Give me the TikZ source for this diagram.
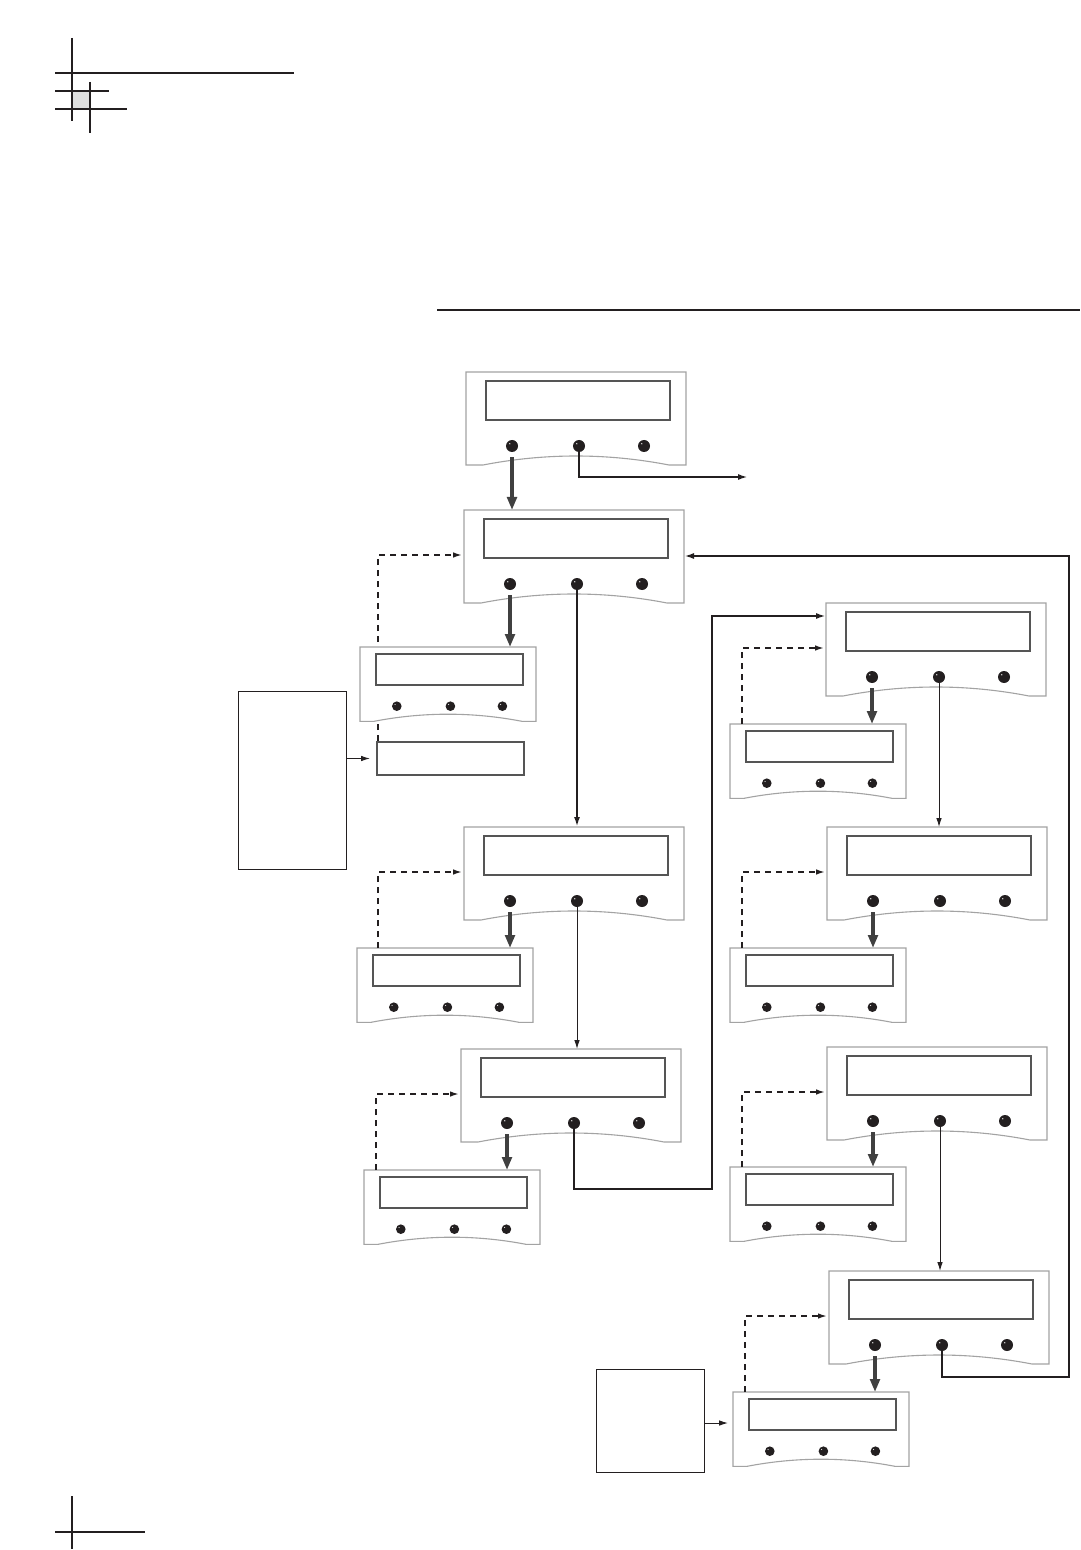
\documentclass[tikz,border=0pt]{standalone}
\usepackage{xcolor}
\usepackage{tikz}
\usetikzlibrary{arrows.meta, positioning, calc}

\definecolor{ink}{HTML}{231F20}
\definecolor{casegray}{HTML}{A3A3A3}
\definecolor{lcdgray}{HTML}{555555}
\definecolor{arrowgray}{HTML}{404040}

\tikzset{
  case/.style={draw=casegray, line width=0.55pt, fill=white},
  lcd/.style={draw=lcdgray, line width=1pt},
  knob/.style={circle, fill=ink, inner sep=0pt},
  heavy/.style={draw=arrowgray, line width=1.7pt, -{Triangle[width=4.8pt,length=6.5pt]}},
  thickline/.style={draw=ink, line width=1pt, -{Latex[length=5pt,width=3pt]}},
  thinline/.style={draw=ink, line width=0.5pt, -{Latex[length=4.5pt,width=2.8pt]}},
  dashline/.style={draw=ink, line width=0.8pt, dash pattern=on 3pt off 2.5pt,
    -{Latex[length=4.5pt,width=2.8pt]}, shorten >=1pt},
  notebox/.style={draw=ink, line width=0.6pt, anchor=north west},
  cropline/.style={draw=ink, line width=0.6pt}
}

% front panel: name, top left corner (px), scale
\newcommand{\panel}[4]{%
  \begin{scope}[shift={(#2,#3)}, scale=#4]
    \draw[case] (0,0) -- (220,0) -- (220,93) -- (203,93)
      .. controls (141,81) and (79,81) .. (17,93) -- (0,93) -- cycle;
    \draw[lcd] (20,9) rectangle (204,48);
    \coordinate (#1-t) at (110,0);
    \coordinate (#1-l) at (0,45);
    \coordinate (#1-r) at (220,46);
    \coordinate (#1-e) at (0,13);
    \coordinate (#1-d) at (15,0);
    \foreach \i/\kx in {1/46,2/113,3/178} {
      \node[knob, minimum size=#4*6pt] (#1-k\i) at (\kx,74) {};
      \fill[white] (\kx-2.2,71.8) circle (0.7);
    }
  \end{scope}
}

\begin{document}
\begin{tikzpicture}[x=0.5pt, y=-0.5pt]
    \useasboundingbox (0,0) rectangle (1080,1550);

    % Crop marks
    \fill[gray!25] (72,91) rectangle (90,109);
    \draw[cropline] (72,38) -- (72,121);
    \draw[cropline] (55,73) -- (294,73);
    \draw[cropline] (90,82) -- (90,133);
    \draw[cropline] (55,91) -- (109,91);
    \draw[cropline] (55,109) -- (127,109);
    \draw[cropline] (72,1496) -- (72,1549);
    \draw[cropline] (55,1532) -- (145,1532);

    % Header rule
    \draw[cropline] (437,310) -- (1080,310);

    % Left column
    \panel{P0}{466}{372}{1}
    \panel{P1}{464}{510}{1}
    \node[lcd, anchor=north west, minimum width=73.5pt, minimum height=16.5pt] (P1x) at (376,741) {};
    \draw[dashline] ([xshift=1pt]P1x.north west) |- (P1-l);
    \panel{P1s}{360}{647}{0.8}
    \panel{P2}{464}{827}{1}
    \panel{P2s}{357}{948}{0.8}
    \panel{P3}{461}{1049}{1}
    \panel{P3s}{364}{1170}{0.8}

    % Right column
    \panel{P4}{826}{603}{1}
    \panel{P4s}{730}{724}{0.8}
    \panel{P5}{827}{827}{1}
    \panel{P5s}{730}{948}{0.8}
    \panel{P6}{827}{1047}{1}
    \panel{P6s}{730}{1167}{0.8}
    \panel{P7}{829}{1271}{1}
    \panel{P7s}{733}{1392}{0.8}

    % Note boxes
    \node[notebox, minimum width=54pt, minimum height=89pt] (N1) at (238,691) {};
    \node[notebox, minimum width=54pt, minimum height=51.5pt] (N2) at (596,1369) {};

    % Turning points
    \coordinate (exit) at (748,477);
    \coordinate (bend) at (712,1189);
    \coordinate (loop) at (1069,1377);

    % Left knob: into the sub panel
    \foreach \p in {P1,P2,P3,P4,P5,P6,P7}
        \draw[heavy] ([yshift=-2.5pt]\p-k1.south) -- (\p-k1 |- \p s-t);
    \draw[heavy] ([yshift=-2.5pt]P0-k1.south) -- (P0-k1 |- P1-t);

    % Back from the sub panels
    \draw[dashline] ([xshift=4.5pt]P2s-d) |- (P2-l);
    \foreach \p in {P3,P4,P5,P6,P7}
        \draw[dashline] (\p s-d) |- (\p-l);

    % Middle knob: to the next panel
    \draw[thickline] (P0-k2) |- (exit);
    \draw[thickline] (P1-k2) -- (P1-k2 |- P2-t);
    \draw[thinline] (P2-k2) -- (P2-k2 |- P3-t);
    \draw[thickline] (P3-k2) |- (bend) |- (P4-e);
    \draw[thinline] (P4-k2) -- (P4-k2 |- P5-t);
    \draw[thinline] (P6-k2) -- (P6-k2 |- P7-t);
    \draw[thickline] (P7-k2) |- (loop) |- (P1-r);

    % Notes
    \draw[thinline] (N1.east |- P1x.west) -- ([xshift=-3pt]P1x.west);
    \draw[thinline] (N2.east |- 0,1423) -- ([xshift=-2.5pt]P7s-l |- 0,1423);
\end{tikzpicture}
\end{document}
